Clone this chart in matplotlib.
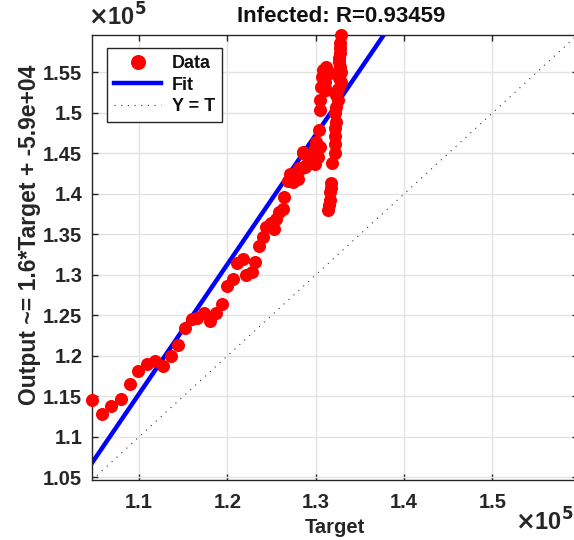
import matplotlib
matplotlib.use('Agg')
import matplotlib.pyplot as plt
from matplotlib.ticker import FuncFormatter, MultipleLocator

plt.rcParams['font.family'] = ['Liberation Sans', 'DejaVu Sans']
plt.rcParams['font.weight'] = 'bold'

# targets and outputs, in units of 1e5
target = [1.0469, 1.0583, 1.0689, 1.0794, 1.0897, 1.0995, 1.1086, 1.1185,
          1.1276, 1.1359, 1.1439, 1.1518, 1.1601, 1.1662, 1.1738, 1.1810,
          1.1874, 1.1942, 1.1995, 1.2060, 1.2109, 1.2174, 1.2211, 1.2276,
          1.2317, 1.2363, 1.2401, 1.2439, 1.2495, 1.2533, 1.2552, 1.2590,
          1.2628, 1.2647, 1.2685, 1.2715, 1.2749, 1.2799, 1.2817, 1.2874,
          1.2856, 1.2931, 1.2942, 1.2988, 1.3026, 1.3044, 1.3037, 1.3044,
          1.3052, 1.3064, 1.3120, 1.3101, 1.3075, 1.3158, 1.3083, 1.3120,
          1.2856, 1.2931, 1.2988, 1.3007, 1.2969, 1.2893, 1.2817, 1.2780,
          1.3283, 1.3272, 1.3280, 1.3272, 1.3268, 1.3265, 1.3280, 1.3291,
          1.3265, 1.3291, 1.3253, 1.3234, 1.3253, 1.3226, 1.3219, 1.3226,
          1.3215, 1.3215, 1.3215, 1.3215, 1.3189, 1.3177, 1.3158, 1.3158,
          1.3140, 1.3150, 1.3170]
output = [1.1451, 1.1286, 1.1377, 1.1475, 1.1657, 1.1817, 1.1899, 1.1932,
          1.1879, 1.1994, 1.2138, 1.2348, 1.2451, 1.2467, 1.2528, 1.2438,
          1.2533, 1.2636, 1.2870, 1.2953, 1.3151, 1.3200, 1.3006, 1.3035,
          1.3158, 1.3352, 1.3475, 1.3590, 1.3640, 1.3570, 1.3694, 1.3775,
          1.3809, 1.3960, 1.4158, 1.4249, 1.4146, 1.4188, 1.4290, 1.4331,
          1.4504, 1.4393, 1.4475, 1.4373, 1.4454, 1.4578, 1.4784, 1.5035,
          1.5158, 1.5323, 1.5282, 1.5385, 1.5447, 1.5488, 1.5528, 1.5570,
          1.4521, 1.4479, 1.4562, 1.4644, 1.4417, 1.4356, 1.4316, 1.4232,
          1.5969, 1.5858, 1.5800, 1.5735, 1.5680, 1.5632, 1.5570, 1.5509,
          1.5426, 1.5385, 1.5302, 1.5220, 1.5158, 1.5077, 1.4994, 1.4891,
          1.4809, 1.4710, 1.4623, 1.4500, 1.4377, 1.4130, 1.4027, 1.3923,
          1.3800, 1.3860, 1.4070]
target = [v * 1e5 for v in target]
output = [v * 1e5 for v in output]

# fitted line
slope = 1.6
intercept = -6.07e4
title = 'Infected: R=0.93459'
ylabel = 'Output ~= 1.6*Target + -5.9e+04'

lo = min(min(target), min(output))
hi = max(max(target), max(output))

fig = plt.figure(figsize=(5.74, 5.40), dpi=100)
ax = fig.add_axes([92 / 574, 60 / 540, 486 / 574, 445.5 / 540])

fit_x = [lo, hi]
fit_y = [slope * v + intercept for v in fit_x]

ax.plot(target, output, 'o', color='#ff0000', markersize=9.4,
        markeredgewidth=0, clip_on=False, label='Data', zorder=3)
ax.plot(fit_x, fit_y, color='#0000ff', lw=3.2, label='Fit', zorder=2)
ax.plot([lo, hi], [lo, hi], color='#333333', lw=0.8, ls=(0, (1, 5)),
        label='Y = T', zorder=2)

ax.set_xlim(lo, hi)
ax.set_ylim(lo, hi)
ax.xaxis.set_major_locator(MultipleLocator(10000))
ax.yaxis.set_major_locator(MultipleLocator(5000))
fmt = FuncFormatter(lambda v, p: '%g' % round(v / 1e5, 4))
ax.xaxis.set_major_formatter(fmt)
ax.yaxis.set_major_formatter(fmt)
ax.grid(True, color='#e3e3e3', lw=1)
ax.set_axisbelow(True)
ax.tick_params(direction='in', top=True, right=True, length=4,
               width=1, color='#262626', labelsize=14.5, labelcolor='#262626')
ax.tick_params(axis='x', pad=9)
ax.tick_params(axis='y', pad=7)
for s in ax.spines.values():
    s.set_color('#262626')
    s.set_linewidth(1)

ax.set_title(title, fontsize=16, fontweight='bold', color='#111111', pad=9,
             x=0.512)
ax.set_xlabel('Target', fontsize=14.5, fontweight='bold', color='#262626')
ax.set_ylabel(ylabel, fontsize=16.5, fontweight='bold', color='#262626')
ax.xaxis.set_label_coords(0.5, -0.085)
ax.yaxis.set_label_coords(-0.105, 0.55)

fig.text(88 / 574, 1 - 17 / 540, r'$\times$10$^5$', fontsize=17,
         color='#262626', va='center', ha='left')
fig.text(515 / 574, 1 - 522 / 540, r'$\times$10$^5$', fontsize=17,
         color='#262626', va='center', ha='left')

leg = ax.legend(loc='upper left', bbox_to_anchor=(107 / 574, 1 - 48 / 540),
                bbox_transform=fig.transFigure, borderaxespad=0,
                fontsize=13, fancybox=False, framealpha=1,
                edgecolor='#262626', handlelength=2.6, handletextpad=0.6,
                labelspacing=0.25, borderpad=0.4, markerscale=1.15)
leg.get_frame().set_linewidth(1)
for t in leg.get_texts():
    t.set_color('#111111')

plt.savefig('out.png')
plt.close('all')
